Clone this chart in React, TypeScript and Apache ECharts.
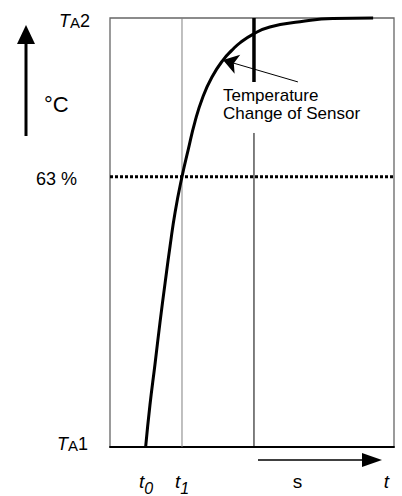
import React, { useEffect, useRef } from "react";
import * as echarts from "echarts";

// Step response of the sensor (x: time units with t0 = 1, t1 = 2; y: % of TA1 -> TA2)
const curveX = [0.99, 1.11, 1.25, 1.39, 1.53, 1.67, 1.81, 2.0, 2.17, 2.36, 2.58, 2.83, 3.14, 3.39, 3.61, 3.97, 4.44, 5.28, 6.19, 7.31];
const curveY = [0, 9.8, 19.3, 29.1, 38.2, 46.9, 54.8, 63, 69.2, 75.8, 81.6, 86.2, 90.2, 92.5, 94.2, 96.2, 97.9, 99.1, 99.9, 100];

const t0 = 1;
const t1 = 2;
const sensorX = 4;
const sensorThinTop = 73.2;
const sensorThickBottom = 85.1;
const pct63 = 63;
const xMin = 0;
const xMax = 7.89;
const yMin = 0;
const yMax = 100;
const calloutFrom = [5.22, 85.1];
const calloutTo = [3.14, 90.2];
const calloutText = "Temperature\nChange of Sensor";

const yTickValues = [0, 63, 100];
const yTickLabels = ["{i1|T}{a1|A}{n1|1}", "{p|63 %}", "{i2|T}{a2|A}{n2|2}"];
const xTickValues = [t0, t1, 5.21, 7.68];
const xTickLabels = ["{t|t}{sub|0}", "{t|t}{sub|1}", "{r|s}", "{tt|t}"];

const FONT = '"Liberation Sans", Arial, Helvetica, sans-serif';

export default function App() {
  const ref = useRef<HTMLDivElement>(null);
  useEffect(() => {
    if (!ref.current) return;
    const chart = echarts.init(ref.current, undefined, { renderer: "svg" });
    const base = { fontFamily: FONT, color: "#000" };
    chart.setOption({
      animation: false,
      backgroundColor: "#fff",
      grid: {
        left: 110,
        right: 8,
        top: 18,
        bottom: 49,
        show: true,
        borderColor: "#666",
        borderWidth: 1.3,
      },
      xAxis: {
        type: "value",
        min: xMin,
        max: xMax,
        axisLine: { show: true, lineStyle: { color: "#000", width: 1.8 } },
        axisTick: { show: false },
        splitLine: { show: false },
        axisLabel: {
          customValues: xTickValues,
          margin: 25,
          formatter: (v: number) => {
            const i = xTickValues.findIndex((x) => Math.abs(x - v) < 1e-6);
            return i >= 0 ? xTickLabels[i] : "";
          },
          rich: {
            t: { ...base, fontSize: 19, fontStyle: "italic", padding: [0, 0, 5, 0], verticalAlign: "bottom" },
            sub: { ...base, fontSize: 16, fontStyle: "italic", verticalAlign: "bottom" },
            r: { ...base, fontSize: 19 },
            tt: { ...base, fontSize: 19, fontStyle: "italic" },
          },
        },
      },
      yAxis: {
        type: "value",
        min: yMin,
        max: yMax,
        axisLine: { show: false },
        axisTick: { show: false },
        splitLine: { show: false },
        axisLabel: {
          customValues: yTickValues,
          margin: 20,
          formatter: (v: number) => {
            const i = yTickValues.indexOf(v);
            return i >= 0 ? yTickLabels[i] : "";
          },
          rich: {
            i1: { ...base, fontSize: 18, fontStyle: "italic", verticalAlign: "bottom", padding: [0, 0, 6, 0] },
            a1: { ...base, fontSize: 15, verticalAlign: "bottom", padding: [0, 0, 6, 0] },
            n1: { ...base, fontSize: 18, verticalAlign: "bottom", padding: [0, 2, 6, 0] },
            p: { ...base, fontSize: 18, padding: [4, 13, 0, 0] },
            i2: { ...base, fontSize: 18, fontStyle: "italic", verticalAlign: "bottom", padding: [6, 0, 0, 0] },
            a2: { ...base, fontSize: 15, verticalAlign: "bottom", padding: [6, 0, 0, 0] },
            n2: { ...base, fontSize: 18, verticalAlign: "bottom", padding: [6, 0, 0, 0] },
          },
        },
      },
      series: [
        {
          type: "line",
          data: [[t1, yMin], [t1, yMax]],
          showSymbol: false,
          lineStyle: { color: "#808080", width: 1 },
          z: 2,
        },
        {
          type: "line",
          data: [[sensorX, yMin], [sensorX, sensorThinTop]],
          showSymbol: false,
          lineStyle: { color: "#000", width: 1 },
          z: 2,
        },
        {
          type: "line",
          data: [[sensorX, sensorThickBottom], [sensorX, yMax]],
          showSymbol: false,
          lineStyle: { color: "#000", width: 3.5 },
          z: 3,
        },
        {
          type: "line",
          data: [[xMin, pct63], [xMax, pct63]],
          showSymbol: false,
          lineStyle: { color: "#000", width: 3, type: [3, 2], cap: "butt" },
          z: 3,
        },
        {
          type: "line",
          data: curveX.map((x, i) => [x, curveY[i]]),
          showSymbol: false,
          smooth: 0.5,
          clip: false,
          lineStyle: { color: "#000", width: 3 },
          z: 5,
          markLine: {
            silent: true,
            symbol: ["none", "arrow"],
            symbolSize: 15,
            symbolOffset: 0,
            label: { show: false },
            lineStyle: { color: "#000", width: 1, type: "solid" },
            itemStyle: { color: "#000" },
            data: [[{ coord: calloutFrom }, { coord: calloutTo }]],
          },
        },
      ],
      graphic: [
        { type: "line", shape: { x1: 26, y1: 136, x2: 26, y2: 40 }, style: { stroke: "#000", lineWidth: 3 } },
        { type: "polygon", shape: { points: [[26, 25], [17, 44], [35, 44]] }, style: { fill: "#000" } },
        {
          type: "text",
          x: 44,
          y: 104,
          style: { text: "°C", fontFamily: FONT, fontSize: 22, fill: "#000", align: "left", verticalAlign: "middle" },
        },
        { type: "line", shape: { x1: 258, y1: 460, x2: 366, y2: 460 }, style: { stroke: "#000", lineWidth: 1.5 } },
        { type: "polygon", shape: { points: [[382, 460], [362, 453], [362, 467]] }, style: { fill: "#000" } },
        {
          type: "text",
          x: 223,
          y: 104,
          style: {
            text: calloutText,
            fontFamily: FONT,
            fontSize: 17,
            lineHeight: 18,
            fill: "#000",
            align: "left",
            verticalAlign: "middle",
          },
        },
      ],
    });
    return () => chart.dispose();
  }, []);
  return (
    <div
      ref={ref}
      style={{ position: "fixed", left: 0, top: 0, width: 402, height: 496, background: "#fff" }}
    />
  );
}
